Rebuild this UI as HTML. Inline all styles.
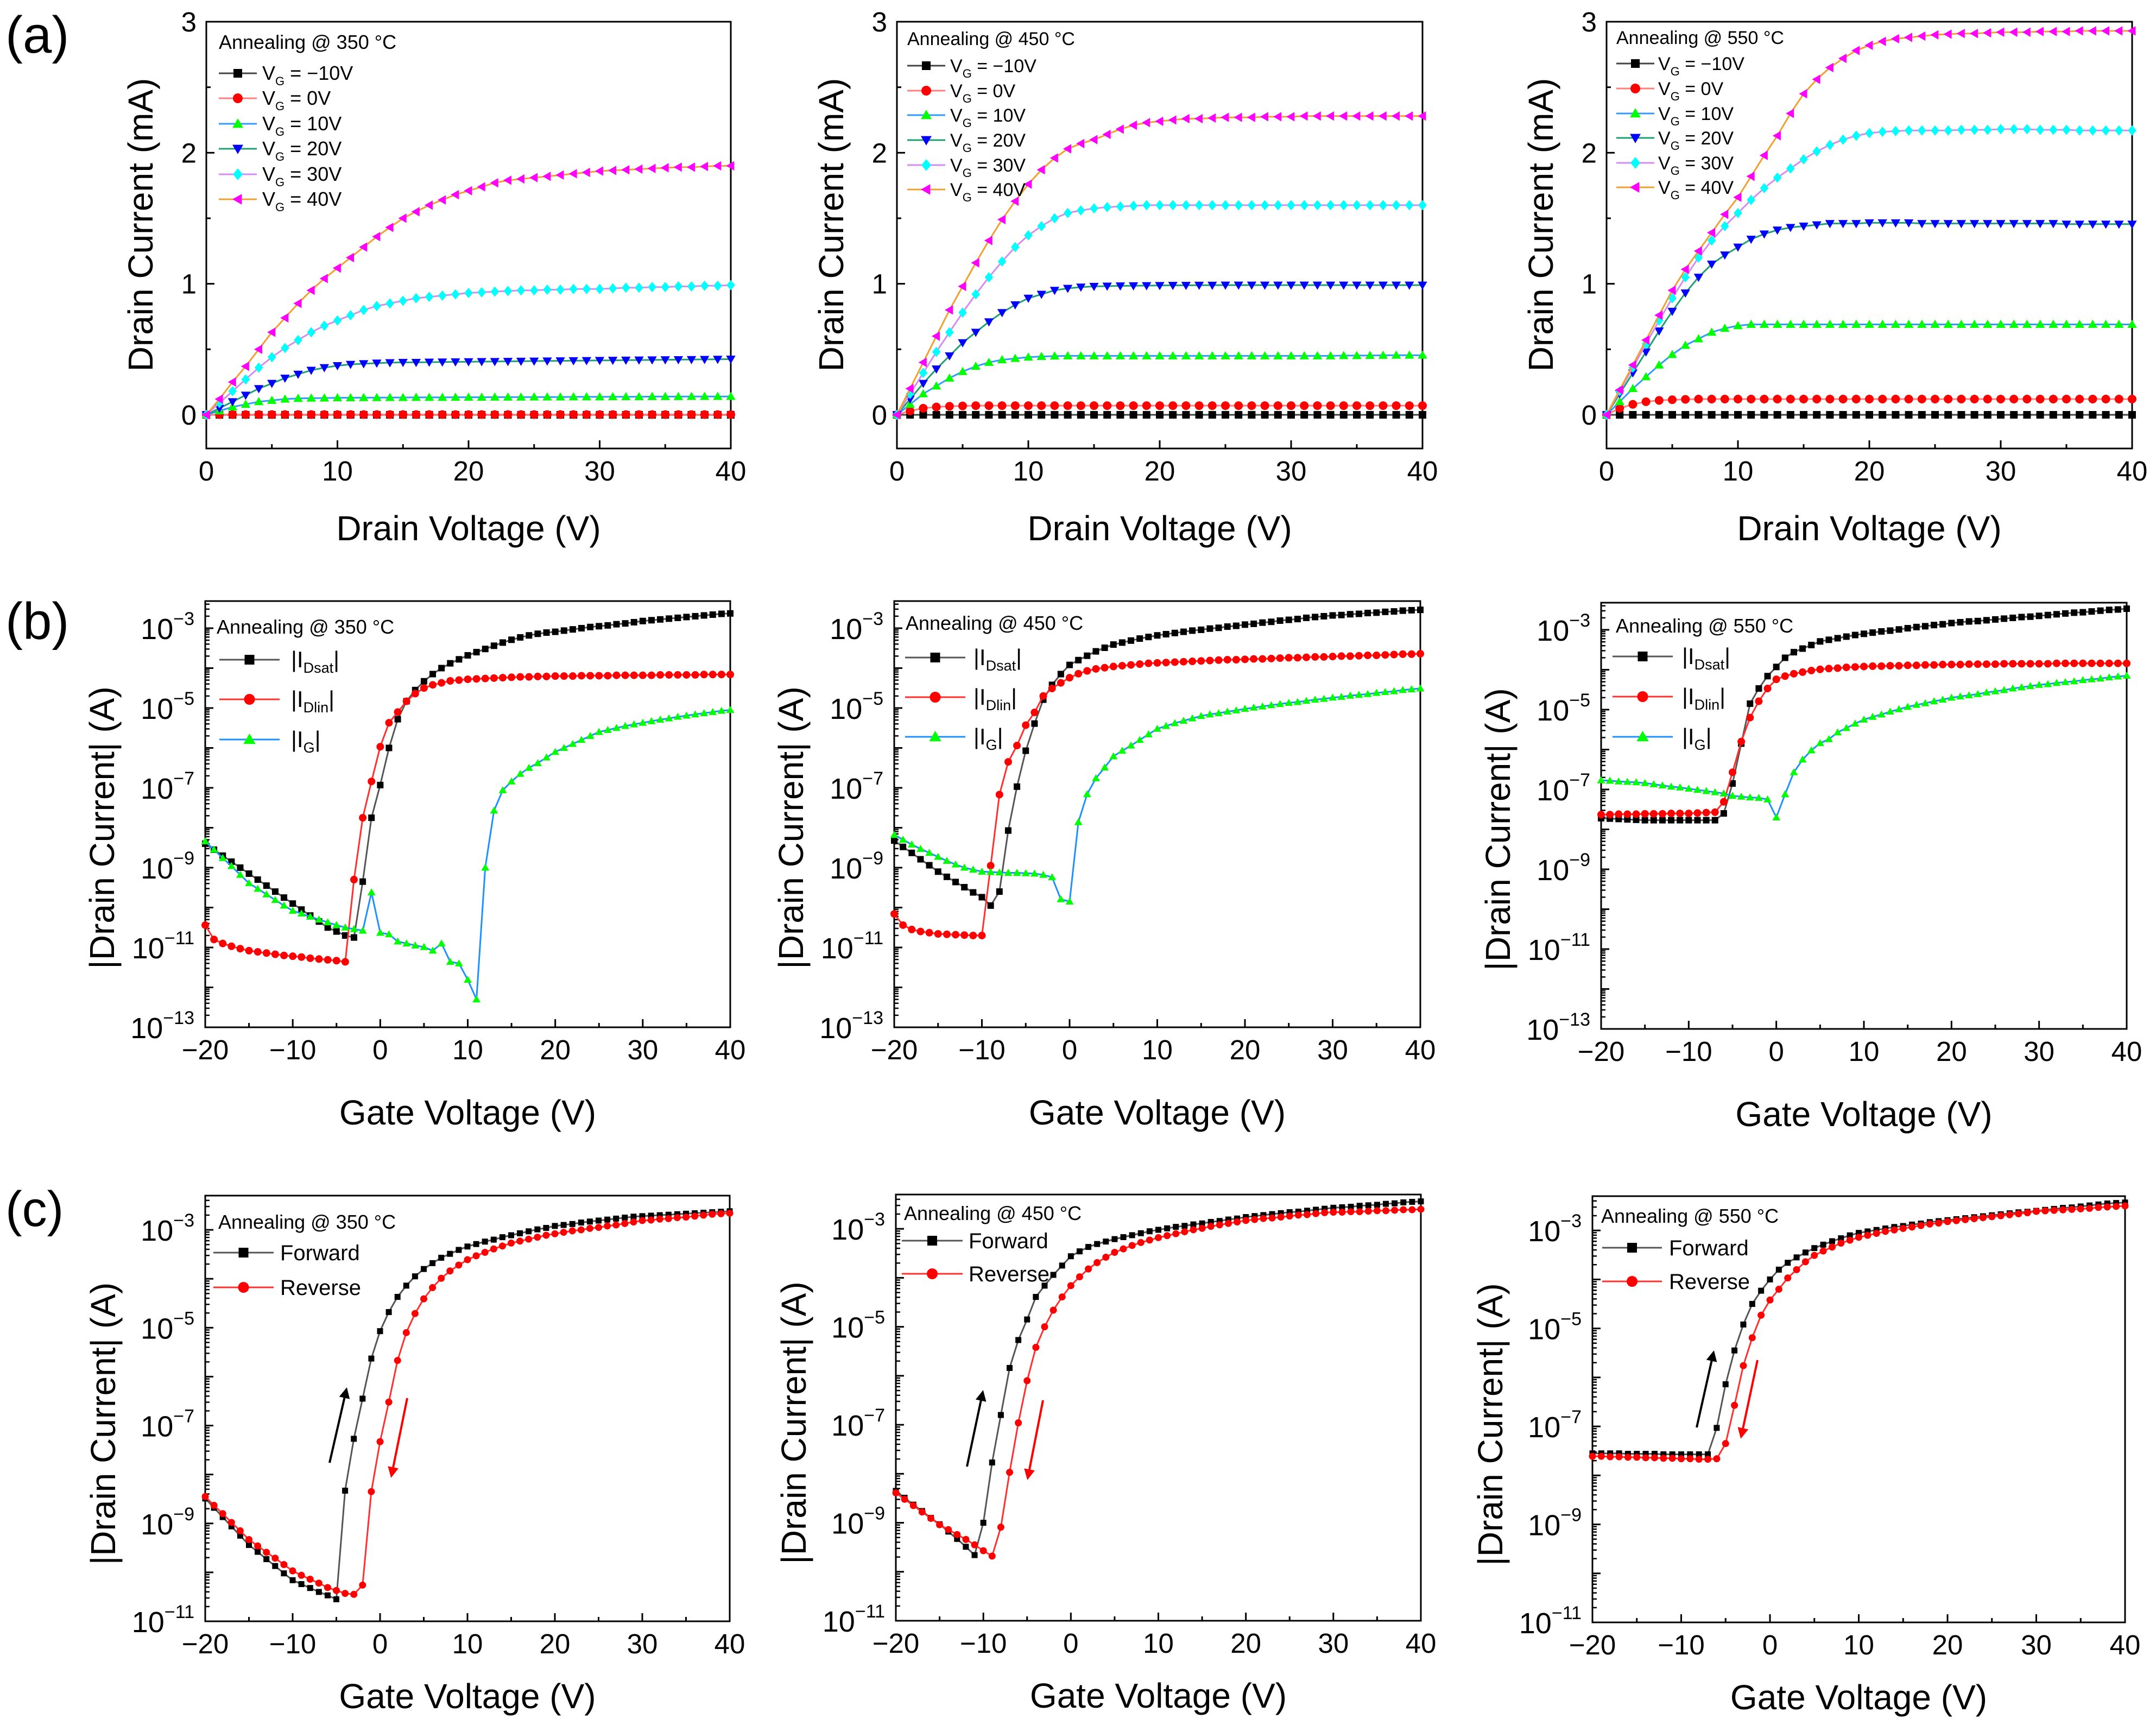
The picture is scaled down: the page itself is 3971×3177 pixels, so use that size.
<!DOCTYPE html>
<html><head><meta charset="utf-8"><title>TFT characteristics</title>
<style>
html,body{margin:0;padding:0;background:#fff;}
svg{display:block;font-family:"Liberation Sans",Arial,sans-serif;}
</style></head>
<body>
<svg id="fig" width="3971" height="3177" viewBox="0 0 3971 3177" xmlns="http://www.w3.org/2000/svg">
<rect x="0" y="0" width="3971" height="3177" fill="#fff"/>
<text x="10" y="97" font-size="96">(a)</text>
<text x="10" y="1177" font-size="96">(b)</text>
<text x="10" y="2258" font-size="92">(c)</text>
</svg>
<script>
// ---------- DATA ----------
const vdA = [0,1,2,3,4,5,6,7,8,9,10,11,12,13,14,15,16,17,18,19,20,21,22,23,24,25,26,27,28,29,30,31,32,33,34,35,36,37,38,39,40];
const vgB = [-20,-19,-18,-17,-16,-15,-14,-13,-12,-11,-10,-9,-8,-7,-6,-5,-4,-3,-2,-1,0,1,2,3,4,5,6,7,8,9,10,11,12,13,14,15,16,17,18,19,20,21,22,23,24,25,26,27,28,29,30,31,32,33,34,35,36,37,38,39,40];
const xTicksA = [0,10,20,30,40];
const yTicksA = [0,1,2,3];
const xTicksB = [-20,-10,0,10,20,30,40];
const xTickLabelsB = ["\u221220","\u221210","0","10","20","30","40"];
const yExpLabelsB = [-3,-5,-7,-9,-11,-13];
const yExpLabelsC = [-3,-5,-7,-9,-11];
const legendA = ["= \u221210V","= 0V","= 10V","= 20V","= 30V","= 40V"];
const tempLabels = ["350","450","550"];

// (a) 350 C output curves, mA
const a1_m10 = [0,0,0,0,0,0,0,0,0,0, 0,0,0,0,0,0,0,0,0,0, 0,0,0,0,0,0,0,0,0,0, 0,0,0,0,0,0,0,0,0,0, 0];
const a1_0 = [0,0.002,0.002,0.002,0.002,0.002,0.002,0.002,0.002,0.002, 0.002,0.002,0.002,0.002,0.002,0.002,0.002,0.002,0.002,0.002, 0.002,0.002,0.002,0.002,0.002,0.002,0.002,0.002,0.002,0.002, 0.002,0.002,0.002,0.002,0.002,0.002,0.002,0.002,0.002,0.002, 0.002];
const a1_10 = [0,0.03,0.06,0.08,0.10,0.11,0.12,0.125,0.127,0.128, 0.13,0.13,0.131,0.131,0.132,0.132,0.133,0.133,0.133,0.134, 0.134,0.134,0.135,0.135,0.135,0.136,0.136,0.136,0.137,0.137, 0.137,0.138,0.138,0.138,0.139,0.139,0.139,0.14,0.14,0.14, 0.14];
const a1_20 = [0,0.05,0.10,0.15,0.20,0.24,0.28,0.31,0.34,0.36, 0.375,0.385,0.39,0.395,0.398,0.40,0.40,0.402,0.403,0.404, 0.405,0.406,0.407,0.408,0.409,0.41,0.411,0.412,0.413,0.414, 0.415,0.416,0.417,0.418,0.419,0.42,0.421,0.422,0.423,0.424, 0.425];
const a1_30 = [0,0.09,0.18,0.27,0.36,0.44,0.51,0.57,0.63,0.68, 0.72,0.76,0.80,0.83,0.85,0.87,0.89,0.90,0.91,0.92, 0.93,0.935,0.94,0.945,0.95,0.95,0.955,0.955,0.96,0.96, 0.96,0.965,0.97,0.97,0.975,0.975,0.98,0.98,0.985,0.985, 0.99];
const a1_40 = [0,0.12,0.25,0.37,0.50,0.63,0.74,0.85,0.95,1.04, 1.12,1.20,1.28,1.36,1.43,1.50,1.55,1.60,1.64,1.68, 1.71,1.74,1.77,1.79,1.80,1.81,1.82,1.83,1.84,1.85, 1.86,1.865,1.87,1.875,1.88,1.885,1.89,1.89,1.895,1.90, 1.90];
// (a) 450 C
const a2_m10 = [0,0,0,0,0,0,0,0,0,0, 0,0,0,0,0,0,0,0,0,0, 0,0,0,0,0,0,0,0,0,0, 0,0,0,0,0,0,0,0,0,0, 0];
const a2_0 = [0,0.03,0.05,0.06,0.065,0.068,0.07,0.07,0.07,0.07, 0.07,0.07,0.07,0.07,0.07,0.07,0.07,0.07,0.07,0.07, 0.07,0.07,0.07,0.07,0.07,0.07,0.07,0.07,0.07,0.07, 0.07,0.07,0.07,0.07,0.07,0.07,0.07,0.07,0.07,0.07, 0.07];
const a2_10 = [0,0.08,0.16,0.22,0.28,0.33,0.37,0.40,0.42,0.43, 0.44,0.445,0.448,0.45,0.45,0.45,0.45,0.45,0.45,0.45, 0.45,0.45,0.45,0.45,0.45,0.45,0.45,0.45,0.45,0.45, 0.45,0.45,0.45,0.45,0.452,0.452,0.453,0.454,0.455,0.455, 0.455];
const a2_20 = [0,0.12,0.24,0.35,0.45,0.55,0.63,0.71,0.78,0.84, 0.89,0.92,0.95,0.965,0.975,0.98,0.982,0.984,0.985,0.986, 0.987,0.988,0.988,0.989,0.989,0.99,0.99,0.99,0.99,0.99, 0.99,0.99,0.99,0.99,0.99,0.99,0.99,0.99,0.99,0.99, 0.99];
const a2_30 = [0,0.16,0.32,0.48,0.63,0.78,0.92,1.05,1.17,1.28, 1.37,1.44,1.50,1.54,1.56,1.575,1.585,1.59,1.595,1.60, 1.60,1.60,1.60,1.60,1.60,1.60,1.60,1.60,1.60,1.60, 1.60,1.60,1.60,1.60,1.60,1.60,1.60,1.60,1.60,1.60, 1.60];
const a2_40 = [0,0.2,0.4,0.6,0.8,0.98,1.16,1.33,1.49,1.63, 1.76,1.87,1.96,2.03,2.07,2.10,2.14,2.18,2.21,2.23, 2.24,2.25,2.26,2.26,2.265,2.27,2.27,2.27,2.275,2.275, 2.275,2.28,2.28,2.28,2.28,2.28,2.28,2.28,2.28,2.28, 2.28];
// (a) 550 C
const a3_m10 = [0,0,0,0,0,0,0,0,0,0, 0,0,0,0,0,0,0,0,0,0, 0,0,0,0,0,0,0,0,0,0, 0,0,0,0,0,0,0,0,0,0, 0];
const a3_0 = [0,0.05,0.08,0.10,0.11,0.115,0.118,0.12,0.12,0.12, 0.12,0.12,0.12,0.12,0.12,0.12,0.12,0.12,0.12,0.12, 0.12,0.12,0.12,0.12,0.12,0.12,0.12,0.12,0.12,0.12, 0.12,0.12,0.12,0.12,0.12,0.12,0.12,0.12,0.12,0.12, 0.12];
const a3_10 = [0,0.10,0.20,0.29,0.38,0.46,0.53,0.58,0.63,0.66, 0.68,0.69,0.69,0.69,0.69,0.69,0.69,0.69,0.69,0.69, 0.69,0.69,0.69,0.69,0.69,0.69,0.69,0.69,0.69,0.69, 0.69,0.69,0.69,0.69,0.69,0.69,0.69,0.69,0.69,0.69, 0.69];
const a3_20 = [0,0.16,0.32,0.48,0.64,0.79,0.93,1.05,1.15,1.22, 1.28,1.34,1.38,1.41,1.43,1.44,1.45,1.46,1.46,1.46, 1.465,1.465,1.465,1.465,1.46,1.46,1.46,1.46,1.46,1.46, 1.46,1.46,1.46,1.46,1.46,1.455,1.455,1.455,1.455,1.455, 1.455];
const a3_30 = [0,0.18,0.36,0.54,0.72,0.89,1.05,1.20,1.33,1.44, 1.54,1.64,1.73,1.81,1.88,1.95,2.01,2.06,2.10,2.13, 2.15,2.16,2.165,2.17,2.17,2.17,2.17,2.175,2.175,2.175, 2.18,2.18,2.18,2.175,2.175,2.175,2.17,2.17,2.17,2.17, 2.17];
const a3_40 = [0,0.19,0.38,0.57,0.76,0.95,1.11,1.25,1.39,1.53, 1.66,1.82,1.98,2.13,2.30,2.45,2.56,2.65,2.72,2.78, 2.82,2.85,2.87,2.88,2.89,2.90,2.905,2.91,2.91,2.915, 2.92,2.92,2.92,2.925,2.925,2.925,2.93,2.93,2.93,2.93, 2.93];

// (b) transfer curves, log10(A)
const b1_sat = [-8.4,-8.55,-8.7,-8.85,-9.0,-9.15,-9.3,-9.45,-9.6,-9.75, -9.9,-10.05,-10.2,-10.35,-10.5,-10.6,-10.7,-10.75,-9.35,-7.75, -6.93,-6.0,-5.28,-4.83,-4.55,-4.33,-4.15,-4.0,-3.88,-3.78, -3.68,-3.6,-3.52,-3.44,-3.36,-3.29,-3.23,-3.18,-3.14,-3.11, -3.09,-3.06,-3.03,-3.0,-2.97,-2.95,-2.93,-2.9,-2.88,-2.85, -2.82,-2.8,-2.78,-2.76,-2.74,-2.72,-2.7,-2.68,-2.66,-2.64, -2.63];
const b1_lin = [-10.44,-10.8,-10.9,-10.97,-11.03,-11.08,-11.11,-11.14,-11.17,-11.2, -11.22,-11.24,-11.27,-11.29,-11.31,-11.33,-11.36,-9.3,-7.75,-6.84, -5.97,-5.37,-5.1,-4.83,-4.64,-4.5,-4.42,-4.37,-4.32,-4.3, -4.28,-4.27,-4.26,-4.25,-4.24,-4.23,-4.22,-4.22,-4.21,-4.21, -4.2,-4.2,-4.2,-4.19,-4.19,-4.19,-4.19,-4.18,-4.18,-4.18, -4.18,-4.18,-4.17,-4.17,-4.17,-4.17,-4.17,-4.16,-4.16,-4.16, -4.16];
const b1_g = [-8.34,-8.55,-8.76,-8.96,-9.18,-9.39,-9.53,-9.67,-9.81,-9.95, -10.08,-10.15,-10.23,-10.3,-10.37,-10.44,-10.5,-10.54,-10.58,-9.62, -10.63,-10.67,-10.85,-10.9,-10.95,-10.99,-11.08,-10.9,-11.36,-11.4, -11.81,-12.3,-9.0,-7.57,-7.06,-6.84,-6.65,-6.5,-6.38,-6.24, -6.1,-6.0,-5.9,-5.8,-5.7,-5.6,-5.55,-5.5,-5.45,-5.41, -5.37,-5.33,-5.29,-5.26,-5.22,-5.19,-5.16,-5.13,-5.1,-5.07, -5.05];
const b2_sat = [-8.32,-8.48,-8.63,-8.79,-8.94,-9.1,-9.23,-9.36,-9.49,-9.62, -9.74,-9.95,-9.6,-8.07,-6.97,-6.07,-5.39,-4.79,-4.42,-4.15, -3.92,-3.8,-3.69,-3.58,-3.49,-3.41,-3.36,-3.31,-3.26,-3.22, -3.18,-3.15,-3.12,-3.09,-3.06,-3.04,-3.01,-2.99,-2.96,-2.94, -2.91,-2.89,-2.86,-2.84,-2.81,-2.79,-2.77,-2.74,-2.72,-2.7, -2.68,-2.67,-2.65,-2.64,-2.62,-2.61,-2.59,-2.58,-2.56,-2.55, -2.54];
const b2_lin = [-10.16,-10.44,-10.55,-10.6,-10.63,-10.66,-10.67,-10.68,-10.69,-10.7, -10.7,-8.95,-7.17,-6.35,-5.94,-5.43,-5.11,-4.7,-4.51,-4.37, -4.24,-4.14,-4.07,-4.02,-3.99,-3.96,-3.94,-3.92,-3.9,-3.88, -3.87,-3.86,-3.85,-3.84,-3.83,-3.82,-3.81,-3.8,-3.79,-3.79, -3.78,-3.77,-3.77,-3.76,-3.75,-3.74,-3.74,-3.73,-3.72,-3.72, -3.71,-3.7,-3.7,-3.69,-3.68,-3.68,-3.67,-3.66,-3.65,-3.65, -3.64];
const b2_g = [-8.18,-8.3,-8.42,-8.53,-8.63,-8.73,-8.83,-8.92,-9.0,-9.05, -9.1,-9.11,-9.12,-9.13,-9.13,-9.14,-9.15,-9.18,-9.24,-9.79, -9.85,-7.86,-7.16,-6.76,-6.49,-6.21,-6.07,-5.94,-5.8,-5.66, -5.52,-5.45,-5.38,-5.32,-5.26,-5.2,-5.16,-5.13,-5.09,-5.06, -5.02,-4.99,-4.96,-4.93,-4.9,-4.87,-4.85,-4.82,-4.79,-4.77, -4.74,-4.72,-4.69,-4.67,-4.65,-4.62,-4.6,-4.58,-4.55,-4.53, -4.51];
const b3_sat = [-7.72,-7.73,-7.74,-7.75,-7.76,-7.77,-7.77,-7.77,-7.77,-7.77, -7.77,-7.77,-7.77,-7.77,-7.6,-6.85,-5.85,-4.85,-4.47,-4.16, -3.93,-3.7,-3.56,-3.47,-3.38,-3.29,-3.25,-3.21,-3.17,-3.13, -3.1,-3.07,-3.04,-3.02,-2.99,-2.96,-2.93,-2.91,-2.88,-2.86, -2.83,-2.81,-2.79,-2.78,-2.76,-2.74,-2.72,-2.7,-2.68,-2.67, -2.65,-2.63,-2.61,-2.59,-2.57,-2.56,-2.54,-2.52,-2.5,-2.49, -2.47];
const b3_lin = [-7.63,-7.63,-7.62,-7.62,-7.62,-7.61,-7.61,-7.61,-7.6,-7.6, -7.6,-7.59,-7.58,-7.57,-7.31,-6.57,-5.8,-5.2,-4.79,-4.47, -4.24,-4.16,-4.1,-4.06,-4.02,-3.99,-3.97,-3.96,-3.94,-3.93, -3.92,-3.91,-3.91,-3.9,-3.9,-3.89,-3.89,-3.88,-3.88,-3.87, -3.87,-3.87,-3.86,-3.86,-3.86,-3.86,-3.85,-3.85,-3.85,-3.85, -3.85,-3.85,-3.84,-3.84,-3.84,-3.84,-3.84,-3.84,-3.84,-3.84, -3.84];
const b3_g = [-6.77,-6.78,-6.8,-6.81,-6.82,-6.84,-6.87,-6.9,-6.93,-6.95, -6.98,-7.01,-7.04,-7.07,-7.1,-7.16,-7.18,-7.2,-7.21,-7.25, -7.7,-7.12,-6.57,-6.25,-6.02,-5.84,-5.74,-5.57,-5.46,-5.35, -5.25,-5.18,-5.12,-5.05,-4.99,-4.93,-4.88,-4.84,-4.79,-4.75, -4.7,-4.67,-4.64,-4.61,-4.57,-4.54,-4.51,-4.47,-4.44,-4.41, -4.38,-4.36,-4.33,-4.31,-4.29,-4.26,-4.24,-4.22,-4.19,-4.17, -4.15];

// (c) hysteresis, log10(A)
const c1_fwd = [-8.49,-8.68,-8.87,-9.06,-9.25,-9.44,-9.58,-9.73,-9.87,-10.02, -10.16,-10.24,-10.32,-10.4,-10.47,-10.55,-8.33,-7.27,-6.45,-5.63, -5.07,-4.68,-4.37,-4.14,-3.95,-3.8,-3.68,-3.57,-3.49,-3.41, -3.34,-3.29,-3.24,-3.2,-3.15,-3.11,-3.07,-3.03,-2.99,-2.96, -2.92,-2.9,-2.88,-2.85,-2.83,-2.81,-2.79,-2.77,-2.75,-2.73, -2.72,-2.71,-2.7,-2.69,-2.68,-2.67,-2.66,-2.65,-2.64,-2.63, -2.62];
const c1_rev = [-8.45,-8.63,-8.8,-8.98,-9.15,-9.33,-9.46,-9.59,-9.71,-9.84, -9.97,-10.06,-10.14,-10.22,-10.31,-10.37,-10.43,-10.45,-10.26,-8.35, -7.33,-6.52,-5.67,-5.1,-4.71,-4.41,-4.18,-3.99,-3.84,-3.72, -3.61,-3.53,-3.46,-3.39,-3.33,-3.27,-3.23,-3.19,-3.15,-3.11, -3.08,-3.05,-3.02,-3.0,-2.97,-2.95,-2.92,-2.9,-2.87,-2.84, -2.81,-2.8,-2.78,-2.77,-2.75,-2.74,-2.72,-2.7,-2.68,-2.67, -2.66];
const c2_fwd = [-8.35,-8.49,-8.63,-8.76,-8.9,-9.03,-9.18,-9.33,-9.49,-9.66, -9.0,-7.77,-6.8,-5.84,-5.27,-4.85,-4.39,-4.16,-3.94,-3.75, -3.56,-3.46,-3.37,-3.31,-3.26,-3.21,-3.17,-3.13,-3.09,-3.05, -3.02,-2.99,-2.96,-2.94,-2.91,-2.89,-2.86,-2.84,-2.81,-2.79, -2.76,-2.74,-2.72,-2.7,-2.68,-2.66,-2.65,-2.63,-2.61,-2.59, -2.57,-2.56,-2.55,-2.53,-2.52,-2.51,-2.49,-2.48,-2.46,-2.45, -2.44];
const c2_rev = [-8.39,-8.52,-8.65,-8.78,-8.91,-9.04,-9.14,-9.24,-9.34,-9.45, -9.57,-9.68,-9.09,-7.97,-6.96,-6.1,-5.42,-5.0,-4.66,-4.39, -4.16,-3.98,-3.82,-3.69,-3.58,-3.48,-3.41,-3.34,-3.28,-3.23, -3.18,-3.14,-3.1,-3.06,-3.02,-2.99,-2.95,-2.92,-2.89,-2.86, -2.83,-2.81,-2.79,-2.78,-2.76,-2.74,-2.72,-2.71,-2.69,-2.67, -2.66,-2.66,-2.65,-2.65,-2.64,-2.63,-2.63,-2.62,-2.61,-2.61, -2.6];
const c3_fwd = [-7.55,-7.55,-7.55,-7.55,-7.56,-7.56,-7.56,-7.56,-7.57,-7.57, -7.57,-7.57,-7.57,-7.57,-7.03,-6.14,-5.45,-4.92,-4.5,-4.23, -4.0,-3.8,-3.66,-3.55,-3.45,-3.36,-3.29,-3.22,-3.16,-3.1, -3.05,-3.02,-2.99,-2.96,-2.93,-2.91,-2.88,-2.86,-2.83,-2.81, -2.79,-2.77,-2.75,-2.73,-2.71,-2.69,-2.67,-2.65,-2.63,-2.62, -2.6,-2.58,-2.56,-2.54,-2.53,-2.51,-2.49,-2.47,-2.45,-2.44, -2.43];
const c3_rev = [-7.61,-7.61,-7.62,-7.62,-7.63,-7.63,-7.64,-7.64,-7.65,-7.65, -7.66,-7.66,-7.67,-7.67,-7.66,-7.35,-6.57,-5.76,-5.19,-4.73, -4.42,-4.2,-3.97,-3.8,-3.64,-3.51,-3.42,-3.34,-3.26,-3.2, -3.14,-3.1,-3.06,-3.02,-2.99,-2.96,-2.93,-2.9,-2.87,-2.85, -2.82,-2.8,-2.78,-2.76,-2.74,-2.72,-2.7,-2.68,-2.66,-2.64, -2.61,-2.6,-2.59,-2.58,-2.57,-2.56,-2.55,-2.53,-2.52,-2.51, -2.5];

// ---------- RENDER ----------
const NS = 'http://www.w3.org/2000/svg';
const svg = document.getElementById('fig');
function el(tag, attrs, parent) {
  const e = document.createElementNS(NS, tag);
  for (const k in attrs) e.setAttribute(k, attrs[k]);
  parent.appendChild(e);
  return e;
}
function marker(g, type, cx, cy, s, fill) {
  let m;
  const a = s * 0.62, b = s * 0.46;
  if (type === 'square') m = el('rect', {x: cx - s/2, y: cy - s/2, width: s, height: s, fill: fill}, g);
  else if (type === 'circle') m = el('circle', {cx: cx, cy: cy, r: s/2 + 1, fill: fill}, g);
  else {
    let p;
    if (type === 'up') p = [[cx, cy - a], [cx - a, cy + b], [cx + a, cy + b]];
    else if (type === 'down') p = [[cx, cy + a], [cx - a, cy - b], [cx + a, cy - b]];
    else if (type === 'left') p = [[cx - a, cy], [cx + b, cy - a], [cx + b, cy + a]];
    else p = [[cx, cy - s*0.68], [cx + s*0.56, cy], [cx, cy + s*0.68], [cx - s*0.56, cy]];
    m = el('polygon', {points: p.map(q => q.join(',')).join(' '), fill: fill}, g);
  }
  return m;
}

function makePanel(id, box, xr, yr, isLog) {
  const g = el('g', {}, svg);
  
  
  const sx = v => box.x0 + (v - xr[0]) / (xr[1] - xr[0]) * (box.x1 - box.x0);
  const sy = v => box.y1 - (v - yr[0]) / (yr[1] - yr[0]) * (box.y1 - box.y0);
  return {g, sx, sy, box, xr, yr, isLog};
}

function drawFrame(P, rowKind, xTicks, xLabels, yTitle, xTitle, yTitleOff, yTitleDy, name) {
  const {g, sx, sy, box} = P;
  const fr = el('rect', {x: box.x0, y: box.y0, width: box.x1 - box.x0, height: box.y1 - box.y0, fill: 'none', stroke: '#000', 'stroke-width': 3}, g);
  
  
  for (let i = 0; i < xTicks.length; i++) {
    const x = sx(xTicks[i]);
    const t = el('line', {x1: x, x2: x, y1: box.y1, y2: box.y1 - 15, stroke: '#000', 'stroke-width': 3}, g);
    
    
    if (i < xTicks.length - 1) {
      const xm = sx((xTicks[i] + xTicks[i + 1]) / 2);
      const tm = el('line', {x1: xm, x2: xm, y1: box.y1, y2: box.y1 - 8, stroke: '#000', 'stroke-width': 3}, g);
      
      
    }
    const lb = el('text', {x: x, y: box.y1 + 59, 'font-size': 51, 'text-anchor': 'middle'}, g);
    lb.textContent = xLabels[i];
    
    
  }
  const xOff = rowKind === 'a' ? 169 : (rowKind === 'b' ? 179 : 160);
  const xt = el('text', {x: (box.x0 + box.x1) / 2, y: box.y1 + xOff, 'font-size': 64, 'text-anchor': 'middle'}, g);
  xt.textContent = xTitle;
  
  
  const cy = (box.y0 + box.y1) / 2 + yTitleDy, cx = box.x0 - yTitleOff;
  const yt = el('text', {x: cx, y: cy, 'font-size': 64, 'text-anchor': 'middle', 'dominant-baseline': 'central', transform: 'rotate(-90 ' + cx + ' ' + cy + ')'}, g);
  yt.textContent = yTitle;
  
  
}

function drawLinearY(P, ticks) {
  const {g, sy, box} = P;
  for (let i = 0; i < ticks.length; i++) {
    const y = sy(ticks[i]);
    const t = el('line', {x1: box.x0, x2: box.x0 + 15, y1: y, y2: y, stroke: '#000', 'stroke-width': 3}, g);
    
    
    if (i < ticks.length - 1) {
      const ym = sy((ticks[i] + ticks[i + 1]) / 2);
      const tm = el('line', {x1: box.x0, x2: box.x0 + 8, y1: ym, y2: ym, stroke: '#000', 'stroke-width': 3}, g);
      
      
    }
    const lb = el('text', {x: box.x0 - 18, y: y + 18, 'font-size': 51, 'text-anchor': 'end'}, g);
    lb.textContent = String(ticks[i]);
    
    
  }
}

function drawLogY(P, labels) {
  const {g, sy, box, yr} = P;
  for (let d = Math.ceil(yr[0]); d <= Math.floor(yr[1]); d++) {
    const y = sy(d);
    const t = el('line', {x1: box.x0, x2: box.x0 + 15, y1: y, y2: y, stroke: '#000', 'stroke-width': 3}, g);
    
    
    for (let k = 2; k <= 9; k++) {
      const v = d + Math.log10(k);
      if (v > yr[1]) break;
      const ym = sy(v);
      const tm = el('line', {x1: box.x0, x2: box.x0 + 8, y1: ym, y2: ym, stroke: '#000', 'stroke-width': 2.5}, g);
      
      
    }
  }
  for (const e of labels) {
    const y = sy(e);
    const lb = el('text', {x: box.x0 - 20, y: y + 20, 'font-size': 54, 'text-anchor': 'end'}, g);
    
    
    const t1 = el('tspan', {}, lb);
    t1.textContent = '10';
    const t2 = el('tspan', {dy: -26, 'font-size': 34}, lb);
    t2.textContent = '\u2212' + Math.abs(e);
  }
}

function drawSeries(P, xs, ys, lineColor, mType, mColor, mSize, name) {
  const {g, sx, sy} = P;
  const sg = el('g', {}, g);
  
  
  const pts = xs.map((x, i) => sx(x).toFixed(1) + ',' + sy(ys[i]).toFixed(1)).join(' ');
  const pl = el('polyline', {points: pts, fill: 'none', stroke: lineColor, 'stroke-width': 3}, sg);
  
  
  for (let i = 0; i < xs.length; i++) {
    const m = marker(sg, mType, sx(xs[i]), sy(ys[i]), mSize, mColor);
    
    
  }
}

function legendEntry(g, x0, x1, y, lineColor, mType, mColor, mSize, name) {
  const l = el('line', {x1: x0, x2: x1, y1: y, y2: y, stroke: lineColor, 'stroke-width': 3}, g);
  
  
  const m = marker(g, mType, (x0 + x1) / 2, y, mSize, mColor);
  
  
}

function annealText(g, x, y, size, temp) {
  const t = el('text', {x: x, y: y, 'font-size': size}, g);
  t.textContent = 'Annealing @ ' + temp + ' \u00B0C';
  
  
}

// ---------- ROW A ----------
const boxesA = [{x0:380,x1:1346,y0:40,y1:826},{x0:1652,x1:2620,y0:40,y1:826},{x0:2959,x1:3927,y0:40,y1:826}];
const dataA = [[a1_m10,a1_0,a1_10,a1_20,a1_30,a1_40],[a2_m10,a2_0,a2_10,a2_20,a2_30,a2_40],[a3_m10,a3_0,a3_10,a3_20,a3_30,a3_40]];
const lineColA = ['#444','#ff7f7f','#3399ff','#20a070','#d48cf0','#f0a030'];
const markA = ['square','circle','up','down','diamond','left'];
const markColA = ['#000','#ff0000','#00ff00','#0000ff','#00ffff','#ff00ff'];
const legA = [
  {tx:403, ty:77, lx0:403, lx1:473, tx2:483, ys:[135,181,228,274,321,367], fs:36},
  {tx:1671, ty:70, lx0:1671, lx1:1741, tx2:1750, ys:[121,167,212,258,304,349], fs:34},
  {tx:2977, ty:68, lx0:2977, lx1:3047, tx2:3054, ys:[117,163,209,254,300,345], fs:34}
];
for (let p = 0; p < 3; p++) {
  const P = makePanel('panel-a' + (p + 1), boxesA[p], [0, 40], [-0.257, 3], false);
  drawFrame(P, 'a', xTicksA, xTicksA.map(String), 'Drain Current (mA)', 'Drain Voltage (V)', 121, -19, 'panel-a' + (p + 1));
  drawLinearY(P, yTicksA);
  for (let s = 0; s < 6; s++) {
    drawSeries(P, vdA, dataA[p][s], lineColA[s], markA[s], markColA[s], 14, 'series-vg-' + ['m10','0','10','20','30','40'][s]);
  }
  const L = legA[p];
  const lg = el('g', {}, P.g);
  
  
  annealText(lg, L.tx, L.ty + 13, L.fs, tempLabels[p]);
  for (let s = 0; s < 6; s++) {
    legendEntry(lg, L.lx0, L.lx1, L.ys[s], lineColA[s], markA[s], markColA[s], 16, 'legend-entry-' + s);
    const t = el('text', {x: L.tx2, y: L.ys[s] + 12, 'font-size': L.fs}, lg);
    
    
    const v = el('tspan', {}, t); v.textContent = 'V';
    const gsub = el('tspan', {dy: 10, 'font-size': 22}, t); gsub.textContent = 'G';
    const rest = el('tspan', {dy: -10}, t); rest.textContent = ' ' + legendA[s];
  }
}

// ---------- ROW B ----------
const boxesB = [{x0:378,x1:1345,y0:1107,y1:1892},{x0:1647,x1:2616,y0:1107,y1:1892},{x0:2949,x1:3917,y0:1110,y1:1895}];
const dataB = [[b1_sat,b1_lin,b1_g],[b2_sat,b2_lin,b2_g],[b3_sat,b3_lin,b3_g]];
const lineColB = ['#555','#ff3030','#1e90ff'];
const markB = ['square','circle','up'];
const markColB = ['#000','#ff0000','#00ff00'];
const legB = [
  {tx:399, ty:1154, lx0:404, lx1:515, tx2:536, ys:[1215,1288,1362]},
  {tx:1668, ty:1147, lx0:1667, lx1:1778, tx2:1793, ys:[1211,1284,1357]},
  {tx:2976, ty:1152, lx0:2970, lx1:3081, tx2:3098, ys:[1209,1283,1357]}
];
const subB = ['Dsat','Dlin','G'];
for (let p = 0; p < 3; p++) {
  const P = makePanel('panel-b' + (p + 1), boxesB[p], [-20, 40], [-13, -2.32], true);
  drawFrame(P, 'b', xTicksB, xTickLabelsB, '|Drain Current| (A)', 'Gate Voltage (V)', 190, 25, 'panel-b' + (p + 1));
  drawLogY(P, yExpLabelsB);
  for (let s = 0; s < 3; s++) {
    drawSeries(P, vgB, dataB[p][s], lineColB[s], markB[s], markColB[s], 12, 'series-' + ['idsat','idlin','ig'][s]);
  }
  const L = legB[p];
  const lg = el('g', {}, P.g);
  
  
  annealText(lg, L.tx, L.ty + 13, 36, tempLabels[p]);
  for (let s = 0; s < 3; s++) {
    legendEntry(lg, L.lx0, L.lx1, L.ys[s], lineColB[s], markB[s], markColB[s], 18, 'legend-entry-' + subB[s].toLowerCase());
    const t = el('text', {x: L.tx2, y: L.ys[s] + 14, 'font-size': 42}, lg);
    
    
    const a = el('tspan', {}, t); a.textContent = '|I';
    const b = el('tspan', {dy: 10, 'font-size': 27}, t); b.textContent = subB[s];
    const c = el('tspan', {dy: -10}, t); c.textContent = '|';
  }
}

// ---------- ROW C ----------
const boxesC = [{x0:378,x1:1344,y0:2202,y1:2986},{x0:1650,x1:2617,y0:2200,y1:2985},{x0:2933,x1:3914,y0:2203,y1:2988}];
const dataC = [[c1_fwd,c1_rev],[c2_fwd,c2_rev],[c3_fwd,c3_rev]];
const lineColC = ['#555','#ff3030'];
const markC = ['square','circle'];
const markColC = ['#000','#ff0000'];
const legCNames = ['Forward','Reverse'];
const legC = [
  {tx:402, ty:2250, lx0:393, lx1:504, tx2:516, ys:[2307,2371]},
  {tx:1665, ty:2234, lx0:1661, lx1:1773, tx2:1784, ys:[2285,2346]},
  {tx:2949, ty:2239, lx0:2951, lx1:3061, tx2:3074, ys:[2298,2360]}
];
const arrowsC = [
  [[607,2694,638,2559],[750,2575,721,2718]],
  [[1781,2701,1810,2564],[1921,2579,1893,2722]],
  [[3125,2629,3156,2491],[3237,2505,3207,2646]]
];
const defs = el('defs', {}, svg);
const mk1 = el('marker', {id:'ahk', viewBox:'0 0 10 10', refX:8, refY:5, markerWidth:5, markerHeight:5, orient:'auto'}, defs);
el('path', {d:'M0,0 L10,5 L0,10 z', fill:'#000'}, mk1);
const mk2 = el('marker', {id:'ahr', viewBox:'0 0 10 10', refX:8, refY:5, markerWidth:5, markerHeight:5, orient:'auto'}, defs);
el('path', {d:'M0,0 L10,5 L0,10 z', fill:'#ff0000'}, mk2);
for (let p = 0; p < 3; p++) {
  const P = makePanel('panel-c' + (p + 1), boxesC[p], [-20, 40], [-11, -2.30], true);
  drawFrame(P, 'c', xTicksB, xTickLabelsB, '|Drain Current| (A)', 'Gate Voltage (V)', 188, 28, 'panel-c' + (p + 1));
  drawLogY(P, yExpLabelsC);
  for (let s = 0; s < 2; s++) {
    drawSeries(P, vgB, dataC[p][s], lineColC[s], markC[s], markColC[s], 11, 'series-' + legCNames[s].toLowerCase());
  }
  const L = legC[p];
  const lg = el('g', {}, P.g);
  
  
  annealText(lg, L.tx, L.ty + 13, 36, tempLabels[p]);
  for (let s = 0; s < 2; s++) {
    legendEntry(lg, L.lx0, L.lx1, L.ys[s], lineColC[s], markC[s], markColC[s], 18, 'legend-entry-' + legCNames[s].toLowerCase());
    const t = el('text', {x: L.tx2, y: L.ys[s] + 14, 'font-size': 40}, lg);
    t.textContent = legCNames[s];
    
    
  }
  const A = arrowsC[p];
  const a1 = el('line', {x1:A[0][0], y1:A[0][1], x2:A[0][2], y2:A[0][3], stroke:'#000', 'stroke-width':4, 'marker-end':'url(#ahk)'}, P.g);
  
  
  const a2 = el('line', {x1:A[1][0], y1:A[1][1], x2:A[1][2], y2:A[1][3], stroke:'#ff0000', 'stroke-width':4, 'marker-end':'url(#ahr)'}, P.g);
  
  
}
</script>
</body></html>
